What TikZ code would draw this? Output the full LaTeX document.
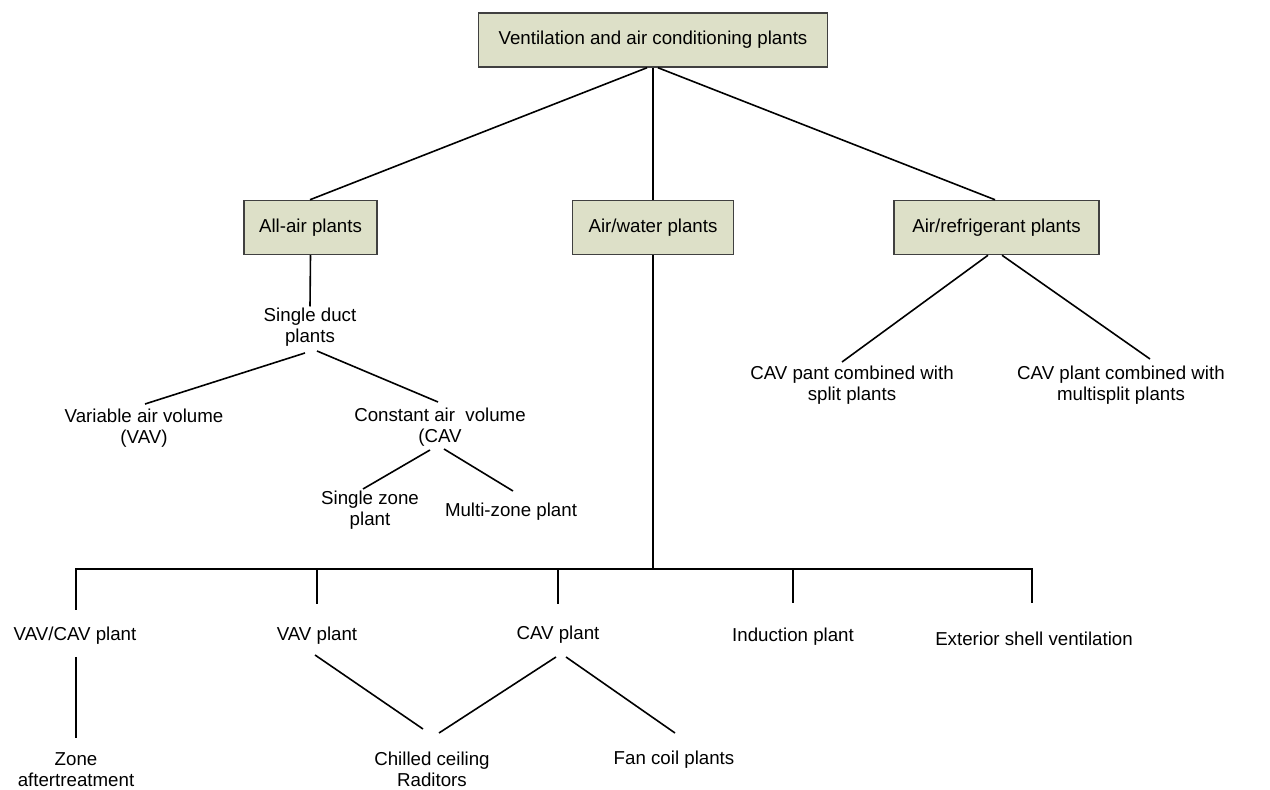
\documentclass[tikz,border=0pt]{standalone}
\usepackage{fontspec}
\setmainfont{Liberation Sans}
\usetikzlibrary{calc}
\definecolor{boxfill}{RGB}{221,224,200}
\definecolor{boxline}{RGB}{64,64,64}
\begin{document}
\begin{tikzpicture}[x=0.5pt,y=-0.5pt,
  every node/.style={font=\fontsize{9.35pt}{10.5pt}\selectfont, inner sep=0pt, align=center},
  plantbox/.style={draw=boxline, fill=boxfill, line width=0.75pt, minimum height=27pt},
  link/.style={line width=0.8pt, line cap=butt}]
\useasboundingbox (0,0) rectangle (1270,790);

% boxed categories
\node[plantbox, minimum width=174.5pt] (top)      at (653,40)      {Ventilation and air conditioning plants};
\node[plantbox, minimum width=66.5pt]  (allair)   at (310.5,227.5) {All-air plants};
\node[plantbox, minimum width=80.5pt]  (airwater) at (653,227.5)   {Air/water plants};
\node[plantbox, minimum width=102.5pt] (airref)   at (996.5,227.5) {Air/refrigerant plants};

% all-air branch
\node (sd)  at (310,327.5) {Single duct\\plants};
\node (vav) at (144,428.5) {Variable air volume\\(VAV)};
\node (cav) at (440,427.5) {Constant air~~volume\\(CAV};
\node (sz)  at (370,510.5) {Single zone\\plant};
\node (mz)  at (511,512)   {Multi-zone plant};

% air/refrigerant branch
\node (split)  at (852,385.5)  {CAV pant combined with\\split plants};
\node (msplit) at (1121,385.5) {CAV plant combined with\\multisplit plants};

% air/water branch
\node (vc)   at (75,636)    {VAV/CAV plant};
\node (vp)   at (317,636)   {VAV plant};
\node (cp)   at (558,635)   {CAV plant};
\node (ind)  at (793,637)   {Induction plant};
\node (ext)  at (1034,639)  {Exterior shell ventilation};
\node (zone) at (76,769.5)  {Zone\\aftertreatment};
\node (chil) at (432,769.5) {Chilled ceiling\\Raditors};
\node (fan)  at (674,760)   {Fan coil plants};

\coordinate (bus) at (653,569);

% connectors from the top box
\draw[link] ($(top.south)+(-6,0)$) -- ($(allair.north)+(-0.5,0)$);
\draw[link] (top.south) -- (airwater.north);
\draw[link] ($(top.south)+(5,0)$) -- ($(airref.north)+(-1.5,0)$);

% all-air connectors
\draw[link] (allair.south) -- ($(sd.center)+(0,-21)$);
\draw[link] ($(sd.center)+(-5,25.5)$) -- ($(vav.center)+(1,-24.5)$);
\draw[link] ($(sd.center)+(7,23.5)$) -- ($(cav.center)+(-2,-25.5)$);
\draw[link] ($(cav.center)+(-10,22.5)$) -- ($(sz.center)+(-7,-21.5)$);
\draw[link] ($(cav.center)+(4,21.5)$) -- ($(mz.center)+(2,-21)$);

% air/refrigerant connectors
\draw[link] ($(airref.south)+(-8.5,0)$) -- ($(split.center)+(-10,-23.5)$);
\draw[link] ($(airref.south)+(5.5,0)$) -- ($(msplit.center)+(29,-26.5)$);

% air/water trunk and bus
\draw[link] (airwater.south) -- (bus);
\draw[link] ($(vc.center)+(1,-26)$) |- (bus) -| ($(ext.center)+(-2,-36)$);
\draw[link] ($(vp.center)+(0,-32)$) -- (vp.center |- bus);
\draw[link] ($(cp.center)+(0,-31)$) -- (cp.center |- bus);
\draw[link] ($(ind.center)+(0,-34)$) -- (ind.center |- bus);

% air/water sub-branches
\draw[link] ($(vc.center)+(1,21)$) -- ($(zone.center)+(0,-31.5)$);
\draw[link] ($(vp.center)+(-2,19)$) -- ($(chil.center)+(-9,-40.5)$);
\draw[link] ($(cp.center)+(-2,22)$) -- ($(chil.center)+(7,-36.5)$);
\draw[link] ($(cp.center)+(8,22)$) -- ($(fan.center)+(1,-27)$);
\end{tikzpicture}
\end{document}
